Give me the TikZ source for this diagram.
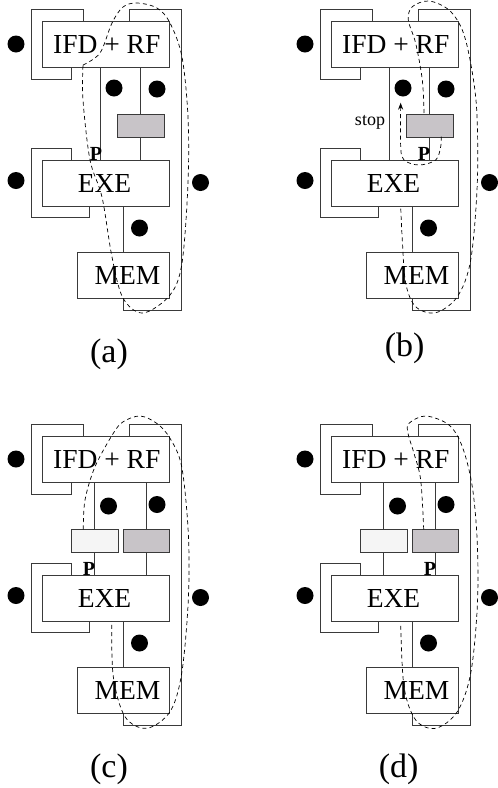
\documentclass[tikz,border=0pt]{standalone}
\usepackage{fontspec}
\setmainfont{Liberation Serif}
\usetikzlibrary{arrows.meta}
\definecolor{xline}{HTML}{3A3A3A}
\definecolor{xgrey}{HTML}{C8C4C8}
\definecolor{xpale}{HTML}{F5F5F5}
\tikzset{
	stage/.style = {draw=xline, line width=0.9pt, inner sep=0pt, outer sep=0pt, minimum height=46pt, font=\fontsize{27.5}{30}\selectfont},
	latch/.style = {draw=xline, line width=0.9pt, inner sep=0pt, outer sep=0pt, minimum width=46.5pt, minimum height=23pt, fill=#1},
	wire/.style = {xline, line width=0.9pt},
	dot/.style = {circle, fill=black, inner sep=0pt, minimum size=17pt},
	path/.style = {line width=0.7pt, dash pattern=on 4pt off 3.2pt},
	marker/.style = {font=\fontsize{20}{20}\selectfont\bfseries, inner sep=0pt, anchor=base},
	caption/.style = {font=\fontsize{34}{34}\selectfont, inner sep=0pt, anchor=base},
}
\newcommand\boxtext[2][0pt]{\hspace*{#1}\raisebox{-3pt}{#2}}

\begin{document}
\begin{tikzpicture}[x=1pt, y=-1pt]
	\useasboundingbox (0,0) rectangle (498,788);
	\foreach \panel/\px/\py in {a/0/0, b/289/0, c/0/415, d/289/415} {
		\begin{scope}[shift={(\px,\py)}]
			\node[stage, minimum width=127pt] (ifd\panel) at (106,44.5) {\boxtext[1.5pt]{IFD + RF}};
			\node[stage, minimum width=127pt] (exe\panel) at (106,183) {\boxtext[-3pt]{EXE}};
			\node[stage, minimum width=92pt]  (mem\panel) at (123.5,275) {\boxtext[8pt]{MEM}};
			\node[dot] (dotf\panel) at (16,44) {};
			\node[dot] (dote\panel) at (16,180.5) {};
			\node[dot] (dotr\panel) at (200.5,182.5) {};
			\node[dot] (dotm\panel) at (139.5,228) {};
			\draw[wire] ([xshift=40.5pt]ifd\panel.north west) -- ++(0,-12) -- ++(-52,0) -- ++(0,69.5) -- ++(40.5,0) -- ++(0,-11.5);
			\draw[wire] ([xshift=87pt]ifd\panel.north west) -- ++(0,-12) -- ++(52,0) -- ++(0,300.5) -- ++(-58,0) -- ++(0,-12);
			\draw[wire] ([xshift=29pt]exe\panel.north west) -- ++(0,-11.5) -- ++(-40.5,0) -- ++(0,69) -- ++(58,0) -- ++(0,-11.5);
			\draw[wire] (exe\panel.south -| mem\panel) -- (mem\panel);
		\end{scope}
	}
	\foreach \panel/\px/\py in {a/0/0, b/289/0} {
		\begin{scope}[shift={(\px,\py)}]
			\node[latch=xgrey] (reg\panel) at (140.8,125.5) {};
			\node[dot] (dotl\panel) at (114,88) {};
			\node[dot] (dots\panel) at (157,89) {};
			\draw[wire] ([xshift=58pt]ifd\panel.south west) -- ([xshift=58pt]exe\panel.north west);
			\draw[wire] (ifd\panel.south -| reg\panel) -- (reg\panel.north);
			\draw[wire] (reg\panel.south) -- (exe\panel.north -| reg\panel);
		\end{scope}
	}
	\foreach \panel/\px/\py in {c/0/415, d/289/415} {
		\begin{scope}[shift={(\px,\py)}]
			\node[latch=xpale] (nop\panel) at (94.7,125.5) {};
			\node[latch=xgrey] (reg\panel) at (146.5,125.5) {};
			\node[dot] (dotl\panel) at (108.5,91) {};
			\node[dot] (dots\panel) at (157,89.5) {};
			\draw[wire] (ifd\panel.south -| nop\panel) -- (nop\panel.north);
			\draw[wire] (nop\panel.south) -- (exe\panel.north -| nop\panel);
			\draw[wire] (ifd\panel.south -| reg\panel) -- (reg\panel.north);
			\draw[wire] (reg\panel.south) -- (exe\panel.north -| reg\panel);
		\end{scope}
	}
	% stall markers
	\node[marker] (pa) at (96,160) {P};
	\node[marker] (pb) at (424,160) {P};
	\node[marker] (pc) at (89,575) {P};
	\node[marker] (pd) at (430,575) {P};
	\node[font=\fontsize{18}{18}\selectfont, inner sep=0pt, anchor=base] (stop) at (370,125) {stop};
	% instruction paths
	\draw[path] plot[smooth, tension=0.55] coordinates {(83,65) (100,53) (112,23) (123,7) (137,3) (157,8) (170,23) (182,57) (188,117) (188,183) (182,263) (170,295) (143,313) (123,298) (112,257) (102,197) (90,160) (83,100) (83,65)};
	\draw[path] plot[smooth, tension=0.55] coordinates {(424,113) (422.3,80) (415.7,43.3) (408.3,20) (412.3,6.7) (429,1) (449,10) (462.3,30) (470.7,63.3) (476.7,110) (477.3,183.3) (470.7,260) (457.3,296.7) (435.7,312.7) (415.7,306.7) (405.7,283.3) (402.3,240) (400.7,206.7)};
	\draw[path, -{Stealth[length=7pt, width=5pt]}] plot[smooth, tension=0.55] coordinates {(441.3,136.7) (440.7,146.7) (435.7,160) (419,165) (404,160) (400.7,146.7) (400.7,102.7)};
	\draw[path] plot[smooth, tension=0.55] coordinates {(83.3,529.3) (85,500) (95,466.7) (113.3,433.3) (123.3,421.7) (140,416) (156.7,423.3) (170,438.3) (181.7,466.7) (188.3,533.3) (188.3,600) (181.7,673.3) (170,711.7) (146.7,728.3) (125,716.7) (113.3,676.7) (111.7,621.7)};
	\draw[path] plot[smooth, tension=0.55] coordinates {(423.7,529.3) (420.7,480) (414,453.3) (408,433.3) (409,423.3) (425.7,416) (449,425) (462.3,446.7) (472.3,486.7) (477.3,543.3) (477.3,606.7) (470.7,673.3) (457.3,711.7) (435.7,728.3) (415.7,720) (404,686.7) (400.7,623.3)};
	% captions
	\node[caption] (capa) at (109,362.7) {(a)};
	\node[caption] (capb) at (404.7,356) {(b)};
	\node[caption] (capc) at (109,777) {(c)};
	\node[caption] (capd) at (398.7,777) {(d)};
\end{tikzpicture}
\end{document}
